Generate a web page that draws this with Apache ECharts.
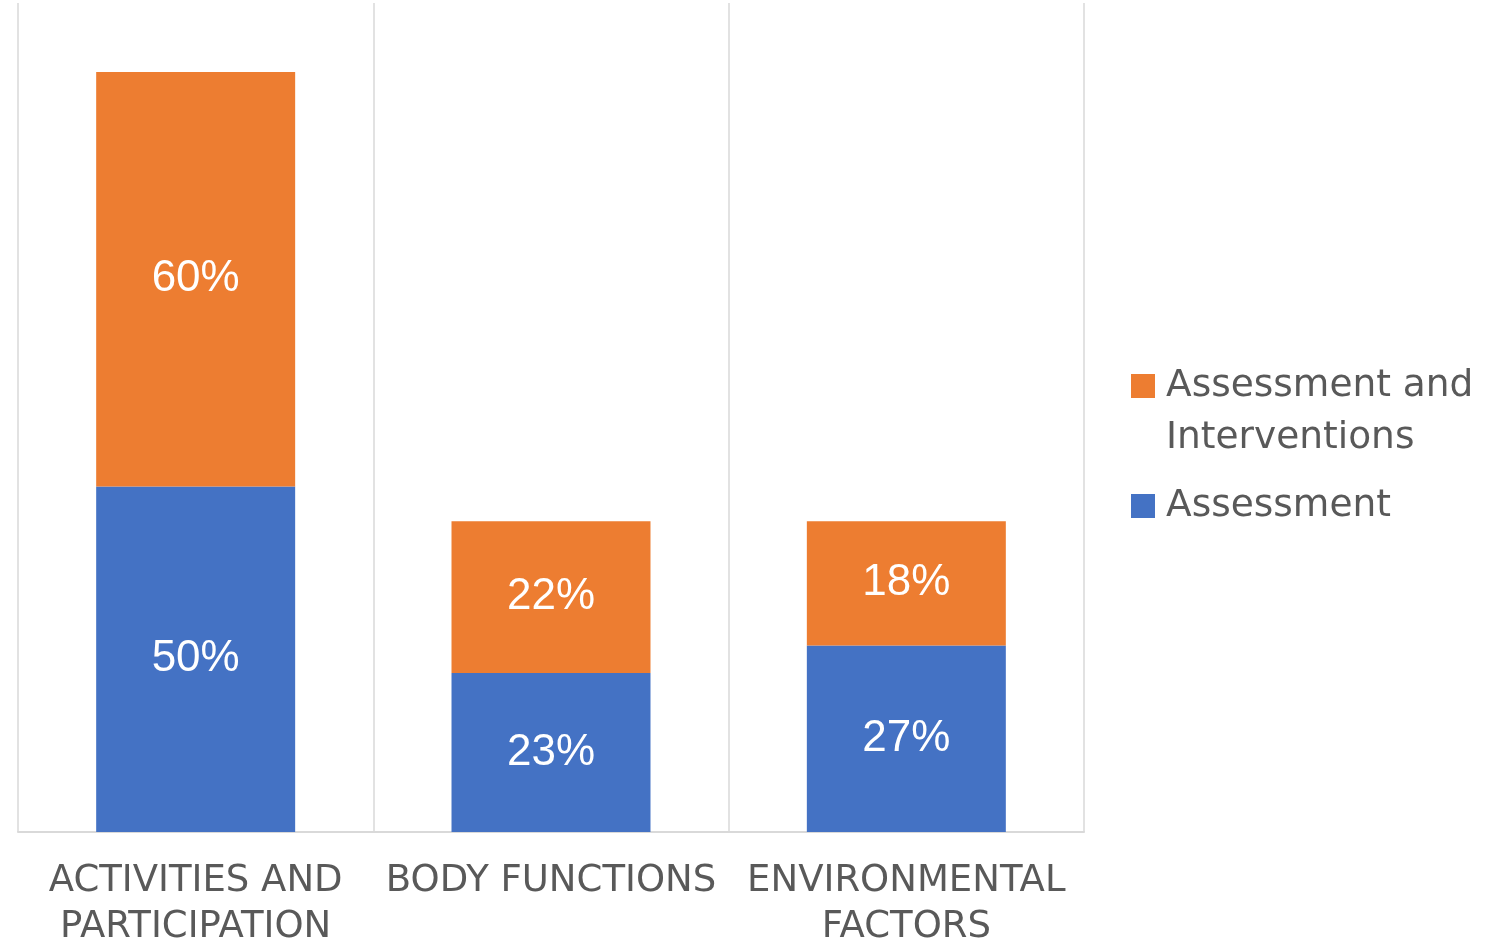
<!DOCTYPE html>
<html>
<head>
<meta charset="utf-8">
<script src="https://cdn.jsdelivr.net/npm/echarts@6/dist/echarts.min.js"></script>
<style>
html,body{margin:0;padding:0;background:#fff;}
#chart{width:1491px;height:941px;}
</style>
</head>
<body>
<div id="chart"></div>
<script>
const categories = ['ACTIVITIES AND\nPARTICIPATION', 'BODY FUNCTIONS', 'ENVIRONMENTAL\nFACTORS'];
const seriesNames = ['Assessment', 'Assessment and Interventions'];
const assessment = [50, 23, 27];
const assessmentInterventions = [60, 22, 18];

const chart = echarts.init(document.getElementById('chart'));
const legendText = {color: '#595959', fontSize: 37.5, fontFamily: 'DejaVu Sans', lineHeight: 52, padding: [0, 0, 0, 6]};
chart.setOption({
  animation: false,
  grid: {left: 18, right: 407, top: 3, bottom: 109, containLabel: false, outerBoundsMode: 'none'},
  xAxis: {
    type: 'category',
    data: categories,
    axisLine: {show: true, lineStyle: {color: '#D9D9D9', width: 2}},
    axisTick: {show: false},
    splitLine: {show: true, interval: 0, lineStyle: {color: '#D9D9D9', width: 1.5}},
    axisLabel: {
      interval: 0, margin: 26, color: '#595959', fontSize: 37,
      fontFamily: 'DejaVu Sans', lineHeight: 46
    }
  },
  yAxis: {
    type: 'value', min: 0, max: 120, show: false,
    splitLine: {show: false}
  },
  legend: [
    {
      data: [seriesNames[1]], orient: 'vertical', left: 1131, top: 308, padding: 0,
      itemWidth: 24, itemHeight: 24, itemGap: 0, icon: 'rect',
      formatter: function (n) { return '\n' + n.replace(' and ', ' and\n'); },
      textStyle: legendText
    },
    {
      data: [seriesNames[0]], orient: 'vertical', left: 1131, top: 480, padding: 0,
      itemWidth: 24, itemHeight: 24, itemGap: 0, icon: 'rect',
      textStyle: legendText
    }
  ],
  series: [
    {
      name: seriesNames[0], type: 'bar', stack: 'total', data: assessment,
      barCategoryGap: '44%',
      itemStyle: {color: '#4472C4'},
      label: {show: true, position: 'inside', formatter: '{c}%', color: '#fff', fontSize: 44, fontFamily: 'Liberation Sans'}
    },
    {
      name: seriesNames[1], type: 'bar', stack: 'total', data: assessmentInterventions,
      barCategoryGap: '44%',
      itemStyle: {color: '#ED7D31'},
      label: {show: true, position: 'inside', formatter: '{c}%', color: '#fff', fontSize: 44, fontFamily: 'Liberation Sans'}
    }
  ]
});
</script>
</body>
</html>
